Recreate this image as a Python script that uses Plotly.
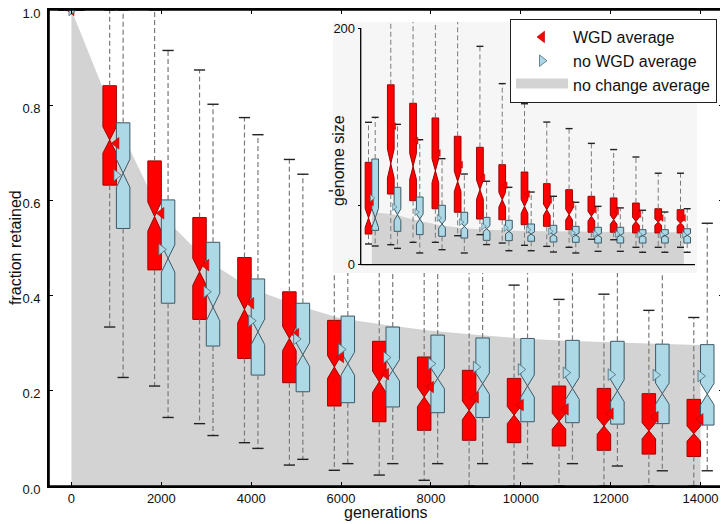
import numpy as np
import plotly.graph_objects as go

# ---------------- data ----------------
generations = [0, 1000, 2000, 3000, 4000, 5000, 6000, 7000, 8000, 9000, 10000, 11000, 12000, 13000, 14000]

# main panel: fraction retained
wgd_q1 = [1.0, 0.632, 0.454, 0.350, 0.268, 0.217, 0.168, 0.135, 0.117, 0.096, 0.091, 0.084, 0.075, 0.067, 0.062]
wgd_med = [1.0, 0.727, 0.566, 0.450, 0.371, 0.310, 0.250, 0.219, 0.187, 0.159, 0.149, 0.136, 0.126, 0.116, 0.110]
wgd_q3 = [1.0, 0.841, 0.683, 0.564, 0.480, 0.408, 0.348, 0.304, 0.271, 0.243, 0.226, 0.210, 0.205, 0.194, 0.182]
wgd_lo = [1.0, 0.334, 0.210, 0.131, 0.091, 0.044, 0.033, 0.023, 0.012, 0.0, 0.0, 0.0, 0.0, 0.0, 0.0]
wgd_hi = [1.0, 1.0, 1.0, 0.874, 0.774, 0.686, 0.62, 0.58, 0.55, 0.50, 0.422, 0.392, 0.403, 0.369, 0.354]
wgd_mean = [1.0, 0.720, 0.573, 0.464, 0.384, 0.319, 0.271, 0.235, 0.208, 0.186, 0.170, 0.161, 0.152, 0.145, 0.140]

nowgd_q1 = [1.0, 0.541, 0.384, 0.294, 0.233, 0.198, 0.175, 0.166, 0.154, 0.144, 0.135, 0.133, 0.130, 0.131, 0.128]
nowgd_med = [1.0, 0.657, 0.478, 0.376, 0.324, 0.276, 0.257, 0.243, 0.226, 0.215, 0.210, 0.205, 0.200, 0.194, 0.193]
nowgd_q3 = [1.0, 0.763, 0.601, 0.512, 0.435, 0.384, 0.357, 0.334, 0.317, 0.311, 0.310, 0.306, 0.304, 0.298, 0.297]
nowgd_lo = [1.0, 0.228, 0.144, 0.106, 0.079, 0.056, 0.047, 0.047, 0.047, 0.047, 0.047, 0.047, 0.042, 0.032, 0.032]
nowgd_hi = [1.0, 1.0, 0.915, 0.802, 0.738, 0.655, 0.60, 0.58, 0.57, 0.56, 0.56, 0.56, 0.56, 0.555, 0.552]
nowgd_mean = [1.0, 0.653, 0.497, 0.408, 0.347, 0.309, 0.287, 0.270, 0.257, 0.250, 0.245, 0.238, 0.234, 0.233, 0.231]

nochange_frac = [1.0, 0.765, 0.57, 0.475, 0.415, 0.38, 0.352, 0.338, 0.326, 0.318, 0.31, 0.305, 0.302, 0.299, 0.296]

# inset: genome size
g_wgd_q1 = [25.9, 59.7, 54.1, 47.3, 44.3, 38.6, 38.0, 33.8, 32.4, 29.6, 27.4, 27.4, 26.8, 26.8, 26.8]
g_wgd_med = [39.5, 85.4, 83.1, 79.4, 70.4, 63.4, 54.9, 49.3, 46.5, 42.3, 41.0, 38.0, 36.6, 36.0, 35.2]
g_wgd_q3 = [86.5, 152.0, 136.4, 124.0, 108.5, 99.2, 84.5, 78.3, 68.5, 63.4, 57.8, 56.4, 52.1, 47.3, 46.5]
g_wgd_lo = [17.5, 16.9, 18.9, 18.9, 24.5, 25.4, 18.3, 16.4, 15.5, 14.7, 21.5, 21.1, 14.7, 14.7, 14.7]
g_wgd_hi = [120.3, 240, 240, 240, 240, 184.5, 153.0, 136.0, 120.5, 115.0, 102.5, 97.3, 91.0, 77.3, 77.3]
g_wgd_mean = [52.7, 117.0, 104.8, 94.4, 84.5, 73.8, 67.1, 59.7, 54.9, 50.7, 46.3, 45.1, 42.8, 39.5, 39.5]

g_nowgd_q1 = [29.0, 28.2, 25.4, 24.0, 22.5, 20.6, 20.3, 19.8, 19.2, 18.9, 18.3, 18.3, 18.3, 18.3, 18.3]
g_nowgd_med = [39.5, 42.3, 38.6, 34.4, 32.4, 30.4, 28.2, 25.9, 25.4, 25.0, 24.8, 24.8, 24.5, 24.5, 24.8]
g_nowgd_q3 = [89.3, 65.4, 57.2, 50.2, 44.3, 40.0, 37.5, 34.4, 33.3, 32.4, 31.6, 31.6, 29.6, 29.6, 30.4]
g_nowgd_lo = [15.8, 13.8, 9.9, 12.7, 9.9, 17.0, 11.8, 11.8, 10.7, 9.9, 11.3, 11.3, 10.5, 10.5, 10.5]
g_nowgd_hi = [124.5, 118.6, 105.6, 89.6, 76.6, 70.5, 65.4, 61.4, 57.8, 52.7, 49.3, 48.0, 46.0, 44.5, 47.3]
g_nowgd_mean = [56.4, 48.8, 44.5, 39.5, 36.0, 32.4, 31.0, 29.6, 28.2, 26.8, 26.2, 26.0, 25.6, 25.4, 25.4]

g_nochange = [44.5, 42.5, 37.5, 33.5, 31.0, 29.8, 29.0, 28.5, 28.2, 28.0, 27.8, 27.6, 27.5, 27.5, 27.5]

N_RUNS = 140  # runs per box (sets notch size: 1.57*IQR/sqrt(N))

# ---------------- style ----------------
RED = "#ff0000"
RED_EDGE = "#a00000"
BLUE = "#add8e6"
BLUE_EDGE = "#3d5866"
GRAY = "#d3d3d3"
INSET_BG = "#f6f6f6"
FONT = "Liberation Sans, Arial, sans-serif"
INK = "#000000"
TXT = "#111111"
OFFSET = 150
BOXW = 300
X_RANGE = [-500, 14500]
Y_RANGE = [0, 1]

# page layout (the html body adds an 8px margin, compensate for it)
PAGE_W, PAGE_H, BODY = 728, 524, 8
W, H = PAGE_W - BODY, PAGE_H - BODY
ML, MR, MT, MB = 49 - BODY, 5, 10 - BODY, 38
PW, PH = W - ML - MR, H - MT - MB


def px_x(p):  # page pixel -> paper fraction
    return (p - BODY - ML) / PW


def px_y(p):
    return (BODY + MT + PH - p) / PH


fig = go.Figure()


def notch(q1, q3):
    return [1.57 * (b - a) / np.sqrt(N_RUNS) for a, b in zip(q1, q3)]


def add_boxes(xa, ya, q1, med, q3, lo, hi, sign, fill, edge, capsize, dashw):
    pos = [g + sign * OFFSET for g in generations]
    wx, wy = [], []
    for p, a, b, l, h in zip(pos, q1, q3, lo, hi):
        wx += [p, p, None, p, p, None]
        wy += [b, h, None, a, l, None]
    fig.add_trace(go.Scatter(x=wx, y=wy, mode="lines", xaxis=xa, yaxis=ya,
                             line=dict(color="#7a7a7a", width=dashw, dash="5px,3px"),
                             showlegend=False, hoverinfo="skip"))
    fig.add_trace(go.Scatter(x=pos + pos, y=list(lo) + list(hi), mode="markers", xaxis=xa, yaxis=ya,
                             marker=dict(symbol="line-ew", size=capsize, color="#222",
                                         line=dict(color="#222", width=1.4)),
                             showlegend=False, hoverinfo="skip"))
    fig.add_trace(go.Box(x=pos, q1=q1, median=med, q3=q3, lowerfence=q1, upperfence=q3,
                         notched=True, notchspan=notch(q1, q3), notchwidth=0.5,
                         width=BOXW, fillcolor=fill, line=dict(color=edge, width=1),
                         whiskerwidth=0, boxpoints=False, xaxis=xa, yaxis=ya,
                         showlegend=False, hoverinfo="skip"))


# main panel boxes
add_boxes("x", "y", wgd_q1, wgd_med, wgd_q3, wgd_lo, wgd_hi, -1, RED, RED_EDGE, 8, 1.2)
add_boxes("x", "y", nowgd_q1, nowgd_med, nowgd_q3, nowgd_lo, nowgd_hi, 1, BLUE, BLUE_EDGE, 8, 1.2)

fig.add_trace(go.Scatter(x=generations, y=wgd_mean, mode="markers", name="WGD average",
                         marker=dict(symbol="triangle-left", size=10, color=RED,
                                     line=dict(color="#b00000", width=0.6)),
                         cliponaxis=False, legendrank=1, hoverinfo="skip"))
fig.add_trace(go.Scatter(x=generations, y=nowgd_mean, mode="markers", name="no WGD average",
                         marker=dict(symbol="triangle-right", size=10, color=BLUE,
                                     line=dict(color="#4a6b7a", width=0.8)),
                         cliponaxis=False, legendrank=2, hoverinfo="skip"))
fig.add_trace(go.Scatter(x=[None], y=[None], mode="lines", fill="toself", fillcolor=GRAY,
                         line=dict(color=GRAY, width=8),
                         name="no change average", legendrank=3, hoverinfo="skip"))

# inset boxes
add_boxes("x2", "y2", g_wgd_q1, g_wgd_med, g_wgd_q3, g_wgd_lo, g_wgd_hi, -1, RED, RED_EDGE, 5, 1.0)
add_boxes("x2", "y2", g_nowgd_q1, g_nowgd_med, g_nowgd_q3, g_nowgd_lo, g_nowgd_hi, 1, BLUE, BLUE_EDGE, 5, 1.0)
fig.add_trace(go.Scatter(x=generations, y=g_wgd_mean, mode="markers", xaxis="x2", yaxis="y2",
                         marker=dict(symbol="triangle-left", size=6, color=RED,
                                     line=dict(color="#b00000", width=0.5)),
                         showlegend=False, hoverinfo="skip"))
fig.add_trace(go.Scatter(x=generations, y=g_nowgd_mean, mode="markers", xaxis="x2", yaxis="y2",
                         marker=dict(symbol="triangle-right", size=6, color=BLUE,
                                     line=dict(color="#4a6b7a", width=0.6)),
                         showlegend=False, hoverinfo="skip"))


# ---------------- shapes ----------------
def area_path(xs, ys):
    pts = [f"{xs[0]},0"] + [f"{x},{y}" for x, y in zip(xs, ys)] + [f"{xs[-1]},0"]
    return "M " + " L ".join(pts) + " Z"


# inset geometry (page pixels)
IN_L, IN_R, IN_T, IN_B = 333, 697, 22, 273        # light background box
SP_L, SP_R, SP_T, SP_B = 360.7, 695, 28, 264.7     # spines for x=-500..14500, y=0..200
sx = (SP_R - SP_L) / 15000.0
sy = (SP_B - SP_T) / 200.0
x2_range = [-500 - (SP_L - IN_L) / sx, 14500 + (IN_R - SP_R) / sx]
y2_range = [-(IN_B - SP_B) / sy, 200 + (SP_T - IN_T) / sy]

shapes = [
    dict(type="path", xref="x", yref="y", path=area_path(generations, nochange_frac),
         fillcolor=GRAY, line=dict(width=0), layer="below"),
    dict(type="rect", xref="x2", yref="y2", x0=x2_range[0], x1=x2_range[1],
         y0=y2_range[0], y1=y2_range[1], fillcolor=INSET_BG, line=dict(width=0), layer="below"),
    dict(type="path", xref="x2", yref="y2", path=area_path(generations, g_nochange),
         fillcolor=GRAY, line=dict(width=0), layer="below"),
    dict(type="line", xref="x2", yref="y2", x0=-500, x1=14500, y0=0, y1=0,
         line=dict(color=INK, width=1.3), layer="below"),
    dict(type="line", xref="x2", yref="y2", x0=-500, x1=-500, y0=0, y1=200,
         line=dict(color=INK, width=1.3), layer="below"),
    # main frame
    dict(type="rect", xref="x domain", yref="y domain", x0=0, x1=1, y0=0, y1=1,
         line=dict(color=INK, width=1.6), fillcolor="rgba(0,0,0,0)", layer="above"),
]

axis_common = dict(showgrid=False, zeroline=False, showline=True, linecolor=INK, linewidth=1.6,
                   ticks="inside", ticklen=4, tickcolor=INK, tickwidth=1, mirror="ticks",
                   layer="above traces", ticklabeloverflow="allow",
                   tickfont=dict(family=FONT, size=13, color=TXT))

fig.update_layout(
    template="none",
    width=W, height=H,
    margin=dict(l=ML, r=MR, t=MT, b=MB, autoexpand=False),
    paper_bgcolor="white", plot_bgcolor="white",
    font=dict(family=FONT, size=13, color=TXT),
    xaxis=dict(range=X_RANGE, tickvals=list(range(0, 14001, 2000)), tickformat="d",
               ticklabelstandoff=0, **axis_common),
    yaxis=dict(range=Y_RANGE, tickvals=[0, 0.2, 0.4, 0.6, 0.8, 1.0], tickformat=".1f",
               ticklabelstandoff=4, ticklabelshift=3, **axis_common),
    xaxis2=dict(domain=[px_x(IN_L), px_x(IN_R)], range=x2_range, anchor="y2",
                showgrid=False, zeroline=False, showline=False, showticklabels=False, ticks=""),
    yaxis2=dict(domain=[px_y(IN_B), px_y(IN_T)], range=y2_range, anchor="free",
                position=px_x(SP_L), showgrid=False, zeroline=False, showline=False,
                tickvals=[0, 50, 200], ticktext=["0", "", "200"], ticks="outside", ticklen=3,
                tickcolor=INK, tickfont=dict(family=FONT, size=13, color=TXT)),
    shapes=shapes,
    showlegend=True,
    legend=dict(x=px_x(717), y=px_y(19), xanchor="right", yanchor="top",
                bgcolor="white", bordercolor="#222", borderwidth=1,
                font=dict(family=FONT, size=16, color=TXT), itemwidth=52,
                tracegroupgap=0),
    annotations=[
        dict(text="fraction retained", xref="paper", yref="paper", x=px_x(15), y=px_y(248),
             textangle=-90, showarrow=False, font=dict(family=FONT, size=16, color=TXT),
             xanchor="center", yanchor="middle"),
        dict(text="generations", xref="paper", yref="paper", x=px_x(386), y=px_y(512),
             showarrow=False, font=dict(family=FONT, size=16, color=TXT),
             xanchor="center", yanchor="middle"),
        dict(text="genome size", xref="paper", yref="paper", x=px_x(338), y=px_y(161),
             textangle=-90, showarrow=False, font=dict(family=FONT, size=16, color=TXT),
             xanchor="center", yanchor="middle"),
    ],
)

fig.write_html("out.html")
